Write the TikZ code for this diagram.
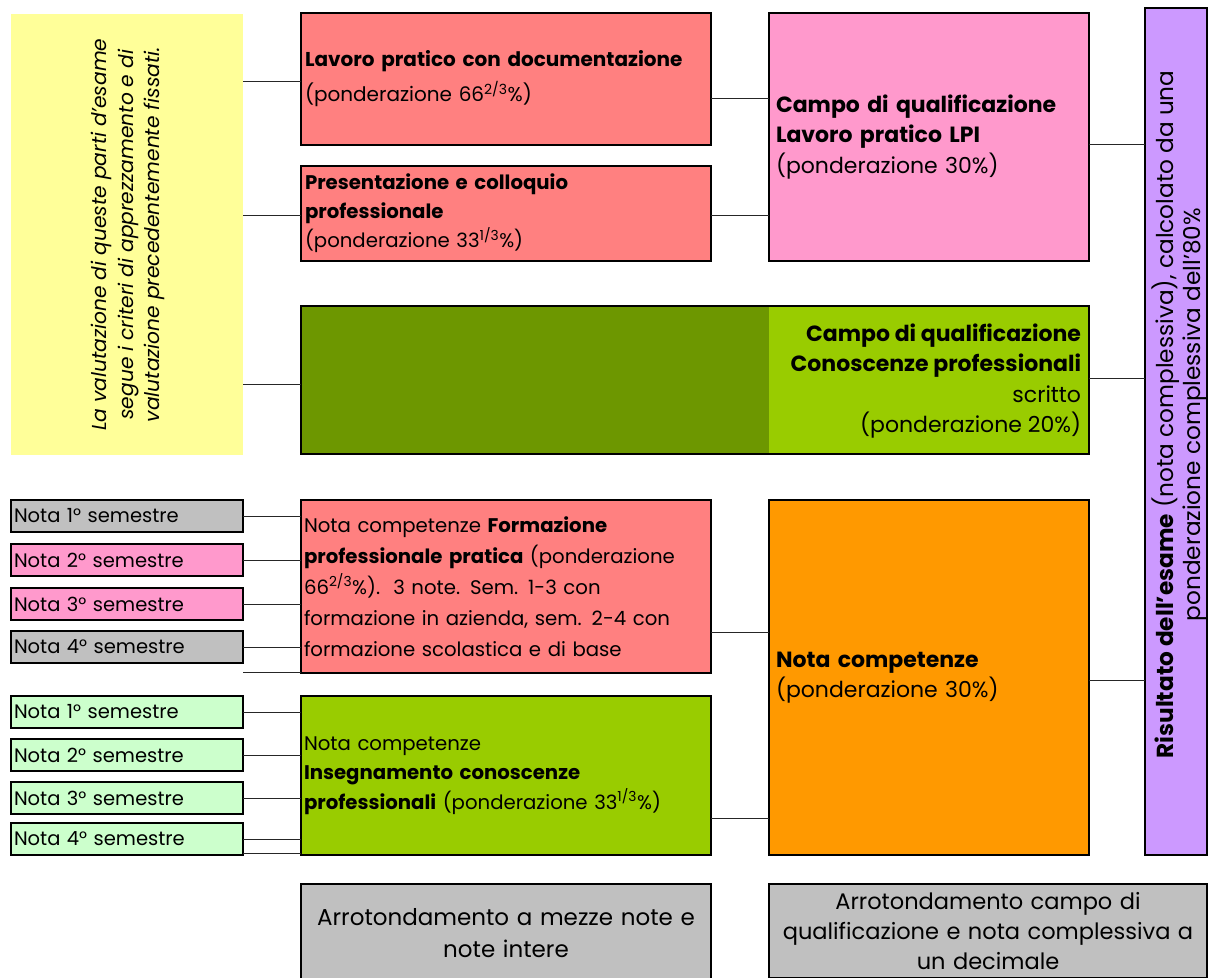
\documentclass[tikz,border=0pt]{standalone}
\usepackage{fontspec}
\setmainfont{Poppins}
\definecolor{salmone}{HTML}{FF8080}
\definecolor{rosa}{HTML}{FF99CC}
\definecolor{lime}{HTML}{99CC00}
\definecolor{oliva}{HTML}{6D9700}
\definecolor{arancio}{HTML}{FF9900}
\definecolor{lilla}{HTML}{CC99FF}
\definecolor{giallo}{HTML}{FFFF99}
\definecolor{verdino}{HTML}{CCFFCC}
\definecolor{grigio}{HTML}{C0C0C0}
\newcommand\fnota{\fontsize{19.5}{30}\selectfont}
\newcommand\fmid{\fontsize{19.7}{31}\selectfont}
\newcommand\fbig{\fontsize{22}{30.5}\selectfont}
\begin{document}
\begin{tikzpicture}[x=1pt,y=-1pt,
  box/.style={draw=black, line width=1.6pt, inner sep=0pt, outer sep=0pt, anchor=north west},
  txt/.style={inner sep=0pt, outer sep=0pt},
  link/.style={draw=black!85, line width=0.9pt}]
\clip (0,0) rectangle (1209,977);
\fill[white] (0,0) rectangle (1209,977);

% explanatory note on the left
\node[anchor=north west, fill=giallo, inner sep=0pt, minimum width=232, minimum height=441] (note) at (11,14) {};
\node[txt, rotate=90, align=center, font=\fontsize{20.2}{26.5}\selectfont\itshape] (notetxt) at ([xshift=1pt]note.center)
  {La valutazione di queste parti d'esame\\segue i criteri di apprezzamento e di\\valutazione precedentemente fissati.};

% qualification area: practical work
\node[box, fill=salmone, minimum width=410, minimum height=132, text width=402, inner xsep=4pt, align=left, font=\fontsize{20}{31}\selectfont] (lav) at (301,13)
  {\textbf{Lavoro pratico con documentazione}\\[4pt](ponderazione 66\textsuperscript{2/3}\%)};
\node[box, fill=salmone, minimum width=410, minimum height=95, text width=402, inner xsep=4pt, align=left, font=\fontsize{19.7}{29}\selectfont] (pre) at (301,166)
  {\textbf{Presentazione e colloquio}\\\textbf{professionale}\\(ponderazione 33\textsuperscript{1/3}\%)};
\node[box, fill=rosa, minimum width=318, minimum height=248, text width=306, inner xsep=7pt, align=left, font=\fbig] (cam) at (769,13)
  {\textbf{Campo di qualificazione}\\\textbf{Lavoro pratico LPI}\\(ponderazione 30\%)};

% qualification area: professional knowledge
\node[box, fill=lime, minimum width=788, minimum height=148,
  path picture={\fill[oliva] (path picture bounding box.north west) rectangle ([xshift=468pt]path picture bounding box.south west);}] (con) at (301,306) {};
\node[txt, anchor=east, align=right, font=\fbig] (contxt) at ([xshift=-8pt,yshift=-1pt]con.east)
  {\textbf{Campo di qualificazione}\\\textbf{Conoscenze professionali}\\scritto\\(ponderazione 20\%)};

% semester grades
\foreach \n/\y/\c/\s in {s1/500/grigio/1, s2/544/rosa/2, s3/588/rosa/3, s4/631/grigio/4,
                         t1/696/verdino/1, t2/739/verdino/2, t3/782/verdino/3, t4/823/verdino/4}
  \node[box, fill=\c, minimum width=232, minimum height=32, text width=226, inner xsep=3pt, align=left, font=\fnota] (\n) at (11,\y)
    {Nota \s° semestre};

% grade for practical training
\node[box, fill=salmone, minimum width=410, minimum height=173, text width=404, inner xsep=3pt, align=left, font=\fmid] (fpp) at (301,500)
  {Nota competenze \textbf{Formazione}\\
   \textbf{professionale pratica} (ponderazione\\
   66\textsuperscript{2/3}\%).\ \ 3 note. Sem. 1-3 con\\
   formazione in azienda, sem. 2-4 con\\
   formazione scolastica e di base};

% grade for school instruction
\node[box, fill=lime, minimum width=410, minimum height=159, text width=404, inner xsep=3pt, align=left, font=\fontsize{19.7}{29.5}\selectfont] (ins) at (301,696)
  {Nota competenze\\
   \textbf{Insegnamento conoscenze}\\
   \textbf{professionali} (ponderazione 33\textsuperscript{1/3}\%)\\[4pt]};

% overall competence grade
\node[box, fill=arancio, minimum width=318, minimum height=355, text width=306, inner xsep=7pt, align=left, font=\fbig] (nco) at (769,500)
  {\textbf{Nota competenze}\\(ponderazione 30\%)};

% final result
\node[box, fill=lilla, minimum width=62, minimum height=847] (ris) at (1145,8) {};
\node[txt, rotate=90, align=center, font=\fontsize{23.2}{26.5}\selectfont] (ristxt) at ([xshift=3pt,yshift=17pt]ris.center)
  {\textbf{Risultato dell’esame} (nota complessiva), calcolato da una\\ponderazione complessiva dell’80\%};

% rounding rules (their lower edges run past the page)
\node[box, fill=grigio, minimum width=410, minimum height=98, text width=404, align=center, font=\fontsize{23}{32}\selectfont] (arr1) at (301,884)
  {Arrotondamento a mezze note e\\note intere};
\node[box, fill=grigio, minimum width=438, minimum height=94, text width=434, align=center, font=\fontsize{22.5}{30}\selectfont] (arr2) at (769,884)
  {Arrotondamento campo di\\qualificazione e nota complessiva a\\un decimale};

% connectors from the note
\draw[link] ([yshift=-2pt]lav.west -| note.east) -- ([yshift=-2pt]lav.west);
\draw[link] ([yshift=-1.5pt]pre.west -| note.east) -- ([yshift=-1.5pt]pre.west);
\draw[link] ([yshift=-4pt]con.west -| note.east) -- ([yshift=-4pt]con.west);

% connectors into the qualification areas
\draw[link] ([yshift=-19pt]lav.east) coordinate (a1) -- (a1 -| cam.west);
\draw[link] ([yshift=-1.5pt]pre.east) coordinate (a2) -- (a2 -| cam.west);

% connectors into the final result
\draw[link] ([yshift=-7pt]cam.east) coordinate (b1) -- (b1 -| ris.west);
\draw[link] ([yshift=2pt]con.east) coordinate (b2) -- (b2 -| ris.west);
\draw[link] ([yshift=-2.5pt]nco.east) coordinate (b3) -- (b3 -| ris.west);

% semester grades into the two competence grades
\foreach \n in {s1,s2,s3,s4} \draw[link] (\n.east) -- (\n.east -| fpp.west);
\foreach \n in {t1,t2,t3,t4} \draw[link] (\n.east) -- (\n.east -| ins.west);
\draw[link] ([yshift=-9pt]s4.south east) coordinate (c1) -- (c1 -| fpp.west);
\draw[link] ([yshift=2pt]t4.south east) coordinate (c2) -- (c2 -| ins.west);

% competence grades into the overall grade
\draw[link] ([yshift=-45.5pt]fpp.east) coordinate (d1) -- (d1 -| nco.west);
\draw[link] ([yshift=-42.5pt]ins.east) coordinate (d2) -- (d2 -| nco.west);

\end{tikzpicture}
\end{document}
